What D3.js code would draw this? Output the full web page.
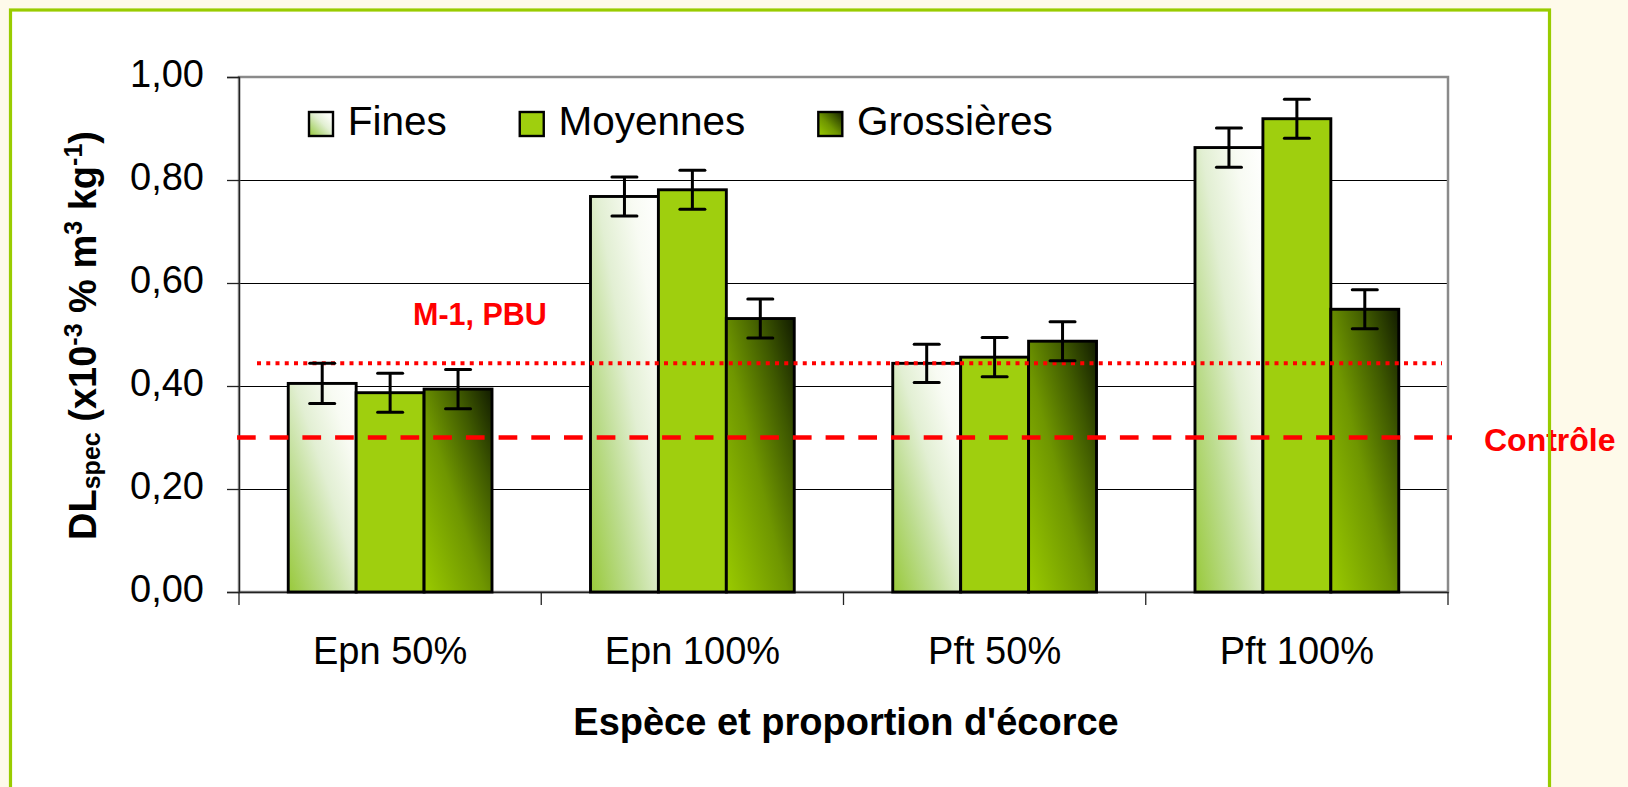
<!DOCTYPE html>
<html><head><meta charset="utf-8">
<script src="https://cdn.jsdelivr.net/npm/d3@7"></script>
<style>
body{margin:0;background:#fefaea;overflow:hidden}
text{font-family:"Liberation Sans",Arial,sans-serif}
</style>
</head><body><svg id="c" width="1628" height="787"></svg>
<script>
// ---- data ----
const categories = ["Epn 50%", "Epn 100%", "Pft 50%", "Pft 100%"];
const seriesNames = ["Fines", "Moyennes", "Grossières"];
const fines = [0.405, 0.768, 0.444, 0.863];
const moyennes = [0.387, 0.781, 0.456, 0.919];
const grossieres = [0.394, 0.531, 0.487, 0.549];
const finesErr = [0.039, 0.038, 0.037, 0.038];
const moyennesErr = [0.038, 0.038, 0.038, 0.038];
const grossieresErr = [0.038, 0.038, 0.038, 0.038];
const yTicks = [0, 0.2, 0.4, 0.6, 0.8, 1.0];
const refControle = 0.30;
const refPBU = 0.444;
const refControleLabel = "Contrôle";
const refPBULabel = "M-1, PBU";
const xTitle = "Espèce et proportion d'écorce";

// ---- layout ----
const svg = d3.select("#c");
const M = {left: 239, right: 1448, top: 77, bottom: 592};
const x = d3.scaleBand().domain(categories).range([M.left, M.right]);
const y = d3.scaleLinear().domain([0, 1]).range([M.bottom, M.top]);
const gapRatio = 1.45;
const bw = x.bandwidth() / (seriesNames.length + gapRatio);
const groupOffset = (x.bandwidth() - seriesNames.length * bw) / 2;
const xs = d3.scaleBand().domain(seriesNames).range([0, seriesNames.length * bw]);

const values = [fines, moyennes, grossieres];
const errors = [finesErr, moyennesErr, grossieresErr];
const fills = ["url(#gFines)", "#9fcf0e", "url(#gGros)"];

// gradients
const defs = svg.append("defs");
function grad(id, stops) {
  const g = defs.append("linearGradient").attr("id", id)
    .attr("x1", 0).attr("y1", 1).attr("x2", 1).attr("y2", 0);
  stops.forEach(s => g.append("stop").attr("offset", s[0]).attr("stop-color", s[1]));
}
grad("gFines", [[0, "#98c93a"], [0.3, "#bcdc8e"], [0.55, "#e2efd3"], [0.8, "#f8fbf3"], [1, "#ffffff"]]);
grad("gGros", [[0, "#9acb00"], [0.45, "#6f9600"], [0.75, "#3e5800"], [1, "#121c00"]]);

// frame background
svg.append("rect").attr("x", 10.5).attr("y", 10).attr("width", 1539).attr("height", 850)
  .attr("fill", "#ffffff");

// gridlines
svg.append("g").selectAll("line").data(yTicks.filter(t => t > 0 && t < 1)).join("line")
  .attr("x1", M.left).attr("x2", M.right).attr("y1", d => y(d)).attr("y2", d => y(d))
  .attr("stroke", "#000").attr("stroke-width", 1).attr("shape-rendering", "crispEdges");

// plot border
svg.append("rect").attr("x", M.left).attr("y", M.top).attr("width", M.right - M.left)
  .attr("height", M.bottom - M.top).attr("fill", "none").attr("stroke", "#8a8a8a").attr("stroke-width", 2.5);

// y axis
const yAxis = svg.append("g").attr("transform", `translate(${M.left},0)`)
  .call(d3.axisLeft(y).tickValues(yTicks).tickSize(12).tickPadding(23)
    .tickFormat(d => d3.format(".2f")(d).replace(".", ",")));
yAxis.select(".domain").attr("stroke", "#222").attr("stroke-width", 1.3);
yAxis.selectAll(".tick line").attr("stroke", "#222").attr("stroke-width", 1.3);
yAxis.selectAll("text").attr("font-size", 38).attr("fill", "#000").attr("dy", "0.24em")
  .style("font-family", '"Liberation Sans",Arial,sans-serif');

// x axis
const xAxis = svg.append("g").attr("transform", `translate(0,${M.bottom})`)
  .call(d3.axisBottom(x).tickSize(0).tickSizeOuter(0).tickPadding(45));
xAxis.select(".domain").attr("stroke", "#222").attr("stroke-width", 1.3);
xAxis.selectAll("text").attr("font-size", 38).attr("fill", "#000")
  .style("font-family", '"Liberation Sans",Arial,sans-serif');
// boundary tick marks
svg.append("g").selectAll("line").data(categories.map(c => x(c)).concat([M.right])).join("line")
  .attr("x1", d => d).attr("x2", d => d).attr("y1", M.bottom).attr("y2", M.bottom + 13)
  .attr("stroke", "#222").attr("stroke-width", 1.3);

// bars
const barData = [];
seriesNames.forEach((s, si) => categories.forEach((c, ci) => {
  barData.push({s, si, c, v: values[si][ci], e: errors[si][ci]});
}));
const bars = svg.append("g");
bars.selectAll("rect").data(barData).join("rect")
  .attr("x", d => x(d.c) + groupOffset + xs(d.s))
  .attr("width", xs.bandwidth())
  .attr("y", d => y(d.v))
  .attr("height", d => y(0) - y(d.v))
  .attr("fill", d => fills[d.si])
  .attr("stroke", "#000").attr("stroke-width", 2.9);

// reference lines
svg.append("line").attr("x1", 237).attr("x2", 1452)
  .attr("y1", y(refControle)).attr("y2", y(refControle))
  .attr("stroke", "#ff0000").attr("stroke-width", 4.5).attr("stroke-dasharray", "18.7,14");
svg.append("line").attr("x1", 257).attr("x2", 1442)
  .attr("y1", y(refPBU)).attr("y2", y(refPBU))
  .attr("stroke", "#ff0000").attr("stroke-width", 4).attr("stroke-dasharray", "4,5.25");

// error bars
const eb = svg.append("g").attr("stroke", "#000").attr("stroke-width", 3);
barData.forEach(d => {
  const cx = x(d.c) + groupOffset + xs(d.s) + xs.bandwidth() / 2;
  eb.append("line").attr("x1", cx).attr("x2", cx).attr("y1", y(d.v + d.e)).attr("y2", y(d.v - d.e));
  [d.v + d.e, d.v - d.e].forEach(v => eb.append("line")
    .attr("x1", cx - 12.5).attr("x2", cx + 12.5).attr("y1", y(v)).attr("y2", y(v))
    .attr("stroke-linecap", "round"));
});

// reference labels
svg.append("text").attr("x", 413).attr("y", y(refPBU) - 38).text(refPBULabel)
  .attr("font-size", 30.5).attr("font-weight", "bold").attr("fill", "#ff0000");
svg.append("text").attr("x", 1484).attr("y", y(refControle) + 13.5).text(refControleLabel)
  .attr("font-size", 32).attr("font-weight", "bold").attr("fill", "#ff0000");

// legend
let lx = 309;
seriesNames.forEach((s, i) => {
  svg.append("rect").attr("x", lx).attr("y", 112).attr("width", 24).attr("height", 24)
    .attr("fill", fills[i]).attr("stroke", "#000").attr("stroke-width", 2.4);
  const t = svg.append("text").attr("x", lx + 38.7).attr("y", 135).text(s)
    .attr("font-size", 40.5).attr("fill", "#000");
  lx = lx + 38.7 + t.node().getComputedTextLength() + 73;
});

// axis titles
svg.append("text").attr("x", 846).attr("y", 735).attr("text-anchor", "middle")
  .attr("font-size", 38).attr("font-weight", "bold").text(xTitle);

const yt = svg.append("text").attr("transform", "translate(96,335.5) rotate(-90)")
  .attr("text-anchor", "middle").attr("font-size", 38).attr("font-weight", "bold");
const parts = [
  ["DL", 0, 38], ["spec", 4, 25], [" (x10", -4, 38], ["-3", -14, 25], [" % m", 14, 38],
  ["3", -14, 25], [" kg", 14, 38], ["-1", -14, 25], [")", 14, 38]
];
parts.forEach(p => yt.append("tspan").attr("dy", p[1]).attr("font-size", p[2]).text(p[0]));

// frame border on top
svg.append("rect").attr("x", 10.5).attr("y", 10).attr("width", 1539).attr("height", 850)
  .attr("fill", "none").attr("stroke", "#99cc00").attr("stroke-width", 3.2);
</script>
</body></html>
